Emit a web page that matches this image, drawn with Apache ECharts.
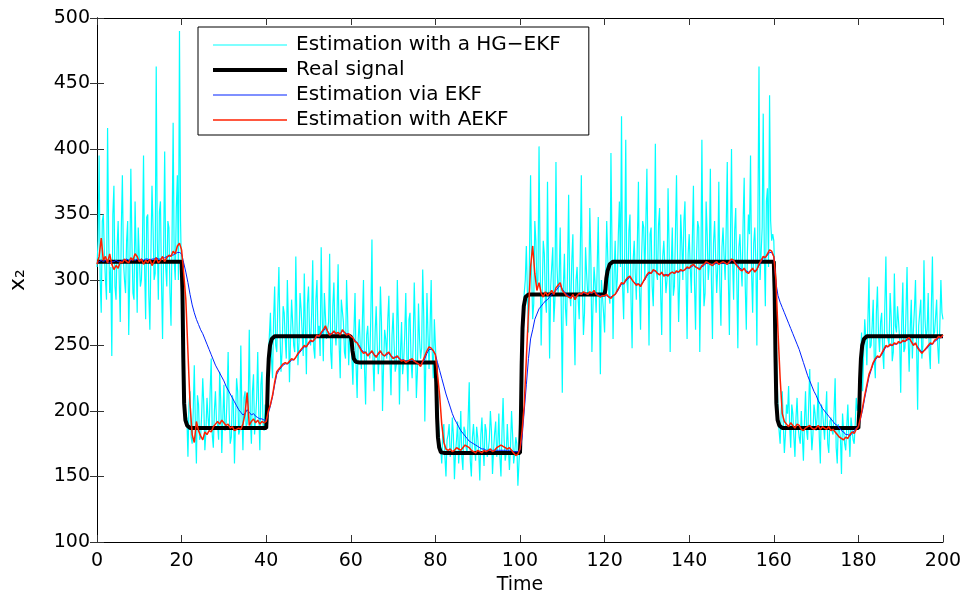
<!DOCTYPE html>
<html>
<head>
<meta charset="utf-8">
<script src="https://cdn.jsdelivr.net/npm/echarts@6/dist/echarts.min.js"></script>
<style>
html,body{margin:0;padding:0;background:#fff;}
#chart{width:965px;height:592px;}
</style>
</head>
<body>
<div id="chart"></div>
<script>
// sample spacing of the estimated signals (time units)
const SAMPLE_STEP = 0.5;

const seriesNames = ['Estimation with a HG\u2212EKF', 'Real signal', 'Estimation via EKF', 'Estimation with AEKF'];

// HG-EKF estimate (noisy), t = 0, 0.5, ..., 200
const hgEkf = [
  310,395,275,350,300,416,290,242,372,285,345,268,380,300,330,258,385,290,360,275,
  340,300,395,270,350,262,372,300,463,285,360,255,398,295,340,265,420,300,380,490,
  300,250,190,165,215,175,235,160,205,180,225,170,210,185,240,172,215,190,230,168,
  220,188,245,175,212,160,225,182,250,170,215,190,262,175,228,195,245,170,230,185,
  190,240,275,225,295,245,310,230,280,255,300,222,285,250,318,235,290,260,305,228,
  295,250,315,240,300,265,325,238,290,255,320,232,298,250,312,225,285,245,300,235,
  255,220,290,210,270,232,300,205,265,240,331,215,280,228,295,200,262,240,288,212,
  275,230,300,205,268,238,290,215,275,225,298,210,282,240,308,192,290,232,300,225,
  250,210,175,160,190,150,182,165,195,148,178,160,200,155,185,168,222,150,190,162,
  180,147,195,158,185,170,200,152,183,165,198,150,210,162,190,155,200,160,180,143,
  175,230,290,326,260,380,270,345,295,402,250,330,285,375,240,310,268,390,290,340,
  214,320,265,365,280,335,235,310,270,380,258,325,290,355,245,310,275,348,228,300,
  260,345,290,397,255,330,300,360,425,270,407,290,350,248,330,285,375,262,345,300,
  385,250,340,280,404,300,355,258,330,290,370,245,340,295,380,268,350,300,360,255,
  335,290,372,262,345,245,407,280,360,300,385,255,345,290,375,265,340,300,390,258,
  400,285,355,248,335,295,378,262,350,395,275,340,250,463,300,427,280,370,441,330,
  330,260,200,175,215,168,205,219,172,198,165,210,180,200,162,215,178,232,170,205,
  185,222,160,200,178,215,168,195,182,225,160,190,152,185,170,205,165,195,175,210,
  200,240,215,270,235,302,250,285,225,295,245,275,232,318,255,290,238,305,260,280,
  214,298,248,310,230,285,262,300,201,275,240,315,255,290,232,318,260,285,236,300,
  270
];

// HG-EKF estimate at the in-between samples, t = 0.25, 0.75, ..., 199.75
const hgEkfMid = [
  330,300,345,320,285,335,310,350,295,325,300,340,315,290,345,305,330,285,320,340,
  295,330,310,348,288,320,340,305,330,352,298,325,310,345,290,335,315,355,300,345,
  270,215,195,205,180,200,190,212,178,198,205,185,195,215,182,200,192,178,208,195,
  185,210,198,180,205,192,215,185,200,210,188,205,195,215,182,210,198,220,190,205,
  215,258,240,270,250,280,262,245,275,240,268,255,285,245,270,252,278,242,265,282,
  260,275,248,285,258,242,272,290,255,268,245,280,262,275,250,285,268,240,272,258,
  240,262,235,255,248,270,232,258,245,275,238,260,250,242,268,235,255,270,240,258,
  250,235,265,245,228,258,242,270,238,252,262,230,255,248,272,240,258,265,245,270,
  230,190,172,185,165,178,190,170,182,168,192,175,165,188,172,195,162,180,175,188,
  168,182,172,190,165,178,185,170,192,175,165,185,178,168,190,172,182,168,175,160,
  200,265,300,290,320,305,282,330,300,315,290,320,275,305,295,325,285,310,300,280,
  295,278,310,290,315,272,300,285,320,295,275,305,288,318,280,298,310,285,300,275,
  300,318,282,325,305,290,335,310,295,320,300,338,285,315,305,330,292,318,340,300,
  315,335,295,320,305,342,290,318,330,300,325,310,288,335,315,300,328,345,305,320,
  310,332,298,320,340,305,315,290,335,312,300,328,345,310,295,325,318,340,302,330,
  315,338,300,325,310,345,295,320,335,305,328,315,350,300,340,322,360,310,345,335,
  300,230,185,200,190,182,198,188,205,180,195,188,175,200,192,185,205,190,182,198,
  195,180,205,190,198,175,192,185,200,172,190,180,198,175,188,182,195,178,190,200,
  210,260,245,255,270,248,265,240,275,258,268,245,280,260,250,272,245,265,280,255,
  268,245,275,258,262,240,278,252,265,285,250,270,262,245,280,258,272,250,265,275
];

// Real signal breakpoints
const realTime = [0,20,20.2,20.4,20.6,20.9,21.3,22,40,40.2,40.4,40.6,40.9,41.3,42,60,60.2,60.4,60.7,61.2,62,
  80,80.2,80.4,80.6,80.9,81.3,82,100,100.2,100.4,100.6,100.9,101.3,102,120,120.2,120.4,120.7,121.2,122,
  160,160.2,160.4,160.6,160.9,161.3,162,180,180.2,180.4,180.6,180.9,181.3,182,200];
const realValue = [314,314,291,241,206,193,189,187,187,200,225,240,250,255,257,257,253,246,240,237.5,237,
  237,222,195,180,172,168.5,168,168,191,236,263,280,287,289,289,293,301,307,312,314,
  314,291,241,206,193,189,187,187,200,225,240,250,255,257,257];

// EKF estimate
const ekf = [
  313,314,315,314,315,314,313,314,314,315,314,314,315,315,316,315,315,316,315,316,
  315,316,315,316,316,315,316,316,317,316,316,317,317,318,318,319,319,320,321,321,
  320,313,306,298,289,281,275,270,266,262,259,255,251,247,243,239,235,232,229,226,
  223,219,216,213,210,207,204,201,199,197,198,201,199,197,198,196,195,194,194,193,
  193,198,204,211,220,228,231,233,235,236,236,237,239,239,241,243,245,247,249,249,
  251,253,253,255,257,257,259,261,263,261,259,259,260,259,260,259,261,260,259,259,
  257,256,254,252,250,247,245,245,243,244,245,243,242,243,245,243,242,243,244,242,
  241,241,241,240,239,239,238,238,239,239,238,237,236,235,237,240,244,247,247,246,
  243,237,231,225,219,213,208,203,198,194,191,188,185,183,181,179,177,176,175,174,
  173,172,171,171,170,170,170,170,170,170,170,170,170,170,170,170,170,169,169,169,
  170,180,200,220,240,255,262,270,274,278,280,282,284,285,287,289,290,292,294,296,
  293,291,289,288,287,288,286,288,289,289,290,290,289,290,290,291,290,289,288,288,
  288,288,287,287,288,289,291,294,297,297,299,301,302,300,298,297,297,296,298,300,
  303,305,305,307,307,305,304,305,304,304,304,305,306,305,306,306,307,307,308,309,
  309,310,311,310,309,309,310,311,313,313,312,311,312,313,312,313,313,313,312,313,
  315,315,313,311,309,308,308,307,306,307,308,307,308,311,314,317,317,319,321,321,
  318,298,288,283,279,275,271,267,263,259,255,251,247,242,237,232,227,223,219,215,
  212,208,205,202,200,198,196,194,192,190,189,187,185,184,182,182,181,183,185,187,
  188,194,201,210,218,226,231,236,239,241,241,243,246,249,249,250,250,251,251,252,
  252,253,253,254,255,253,251,251,249,247,245,246,247,249,251,251,253,254,256,256,
  257
];

// AEKF estimate
const aekf = [
  312,318,332,315,318,313,320,312,308,311,309,314,313,316,314,313,317,315,320,318,
  314,316,312,315,313,316,311,314,317,313,315,318,314,317,319,318,322,320,326,328,
  323,305,285,245,205,182,176,192,185,181,178,184,182,185,184,188,190,192,190,193,
  191,189,190,187,188,185,186,187,186,190,198,214,189,192,194,191,193,190,192,191,
  192,200,205,212,222,230,232,234,236,237,236,238,240,239,241,244,246,248,250,249,
  252,254,253,255,258,257,260,262,265,261,258,259,261,259,260,258,262,260,258,259,
  257,256,253,252,249,246,244,245,242,244,246,243,241,244,246,243,242,244,245,242,
  240,241,242,240,238,239,237,238,239,240,238,237,236,234,238,242,246,249,248,246,
  243,228,212,190,176,171,170,171,169,170,172,171,170,172,174,173,172,170,169,168,
  170,169,168,170,169,170,171,169,170,172,173,174,173,172,171,172,170,168,166,167,
  171,185,205,240,275,310,326,305,292,298,290,287,291,288,290,292,289,294,296,298,
  292,290,288,287,286,289,285,288,290,289,291,290,289,291,290,292,289,288,287,288,
  288,289,287,286,288,289,292,295,298,297,300,302,303,300,298,296,297,295,298,301,
  304,306,305,308,307,305,304,306,303,304,303,305,306,305,307,306,308,307,308,310,
  309,311,312,310,309,308,311,312,314,313,312,311,313,314,312,313,314,313,312,314,
  316,315,312,310,308,307,309,306,305,307,309,306,308,312,315,318,317,320,323,322,
  318,300,260,225,198,192,190,188,191,189,187,190,189,186,185,187,188,189,187,186,
  187,189,186,188,187,186,188,185,186,184,182,180,179,178,180,179,182,184,183,186,
  188,195,203,212,220,228,232,237,240,242,241,244,247,250,249,251,250,252,251,253,
  252,254,253,255,256,253,250,252,248,246,244,246,248,250,252,251,254,255,257,256,
  258
];

const xTicks = {min: 0, max: 200, interval: 20};
const yTicks = {min: 100, max: 500, interval: 50};

function sampled(vals) { return vals.map((v, i) => [i * SAMPLE_STEP, v]); }
function interleaved(main, mid) {
  const out = [];
  for (let i = 0; i < main.length; i++) {
    out.push([i * SAMPLE_STEP, main[i]]);
    if (i < mid.length) out.push([i * SAMPLE_STEP + SAMPLE_STEP / 2, mid[i]]);
  }
  return out;
}
const realPairs = realTime.map((t, i) => [t, realValue[i]]);

const FONT = 'DejaVu Sans';
const chart = echarts.init(document.getElementById('chart'), null, {renderer: 'canvas'});

const axisCommon = {
  axisLine: {show: true, lineStyle: {color: '#000', width: 1}},
  axisTick: {show: true, inside: true, length: 7, lineStyle: {color: '#333', width: 1}},
  splitLine: {show: false}
};

const colors = ['#00ffff', '#000000', '#0022ff', '#ff2000'];
const widths = [1.2, 4, 1, 1.5];

chart.setOption({
  animation: false,
  backgroundColor: '#fff',
  grid: {left: 97, right: 22, top: 18, bottom: 50, containLabel: false, outerBoundsMode: 'none'},
  xAxis: [
    Object.assign({
      type: 'value', position: 'bottom', min: xTicks.min, max: xTicks.max, interval: xTicks.interval,
      name: 'Time', nameLocation: 'middle', nameGap: 30,
      nameTextStyle: {fontFamily: FONT, fontSize: 19, color: '#000'},
      axisLabel: {fontFamily: FONT, fontSize: 19, color: '#000', margin: 10}
    }, axisCommon),
    Object.assign({
      type: 'value', position: 'top', min: xTicks.min, max: xTicks.max, interval: xTicks.interval,
      axisLabel: {show: false}
    }, axisCommon)
  ],
  yAxis: [
    Object.assign({
      type: 'value', position: 'left', min: yTicks.min, max: yTicks.max, interval: yTicks.interval,
      name: 'x\u2082', nameLocation: 'middle', nameGap: 68, nameRotate: 90,
      nameTextStyle: {fontFamily: FONT, fontSize: 22, color: '#000'},
      axisLabel: {fontFamily: FONT, fontSize: 19, color: '#000', margin: 7}
    }, axisCommon),
    Object.assign({
      type: 'value', position: 'right', min: yTicks.min, max: yTicks.max, interval: yTicks.interval,
      axisLabel: {show: false}
    }, axisCommon)
  ],
  legend: {
    orient: 'vertical', left: 198, top: 27,
    data: seriesNames.map((n, i) => ({
      name: n,
      icon: 'path://M0,0H74V' + Math.max(widths[i], 1) + 'H0Z'
    })),
    itemWidth: 74, itemHeight: 14, itemGap: 5,
    symbolKeepAspect: true,
    padding: [8, 28, 5, 15],
    borderColor: '#000', borderWidth: 1, backgroundColor: '#fff',
    textStyle: {fontFamily: FONT, fontSize: 20, color: '#000', padding: [0, 0, 0, 4]}
  },
  series: [
    {name: seriesNames[0], type: 'line', data: interleaved(hgEkf, hgEkfMid), symbol: 'none',
      lineStyle: {color: colors[0], width: widths[0]}, itemStyle: {color: colors[0]}},
    {name: seriesNames[1], type: 'line', data: realPairs, symbol: 'none',
      lineStyle: {color: colors[1], width: widths[1]}, itemStyle: {color: colors[1]}},
    {name: seriesNames[2], type: 'line', data: sampled(ekf), symbol: 'none',
      lineStyle: {color: colors[2], width: widths[2]}, itemStyle: {color: colors[2]}},
    {name: seriesNames[3], type: 'line', data: sampled(aekf), symbol: 'none',
      lineStyle: {color: colors[3], width: widths[3]}, itemStyle: {color: colors[3]}}
  ]
});
</script>
</body>
</html>
